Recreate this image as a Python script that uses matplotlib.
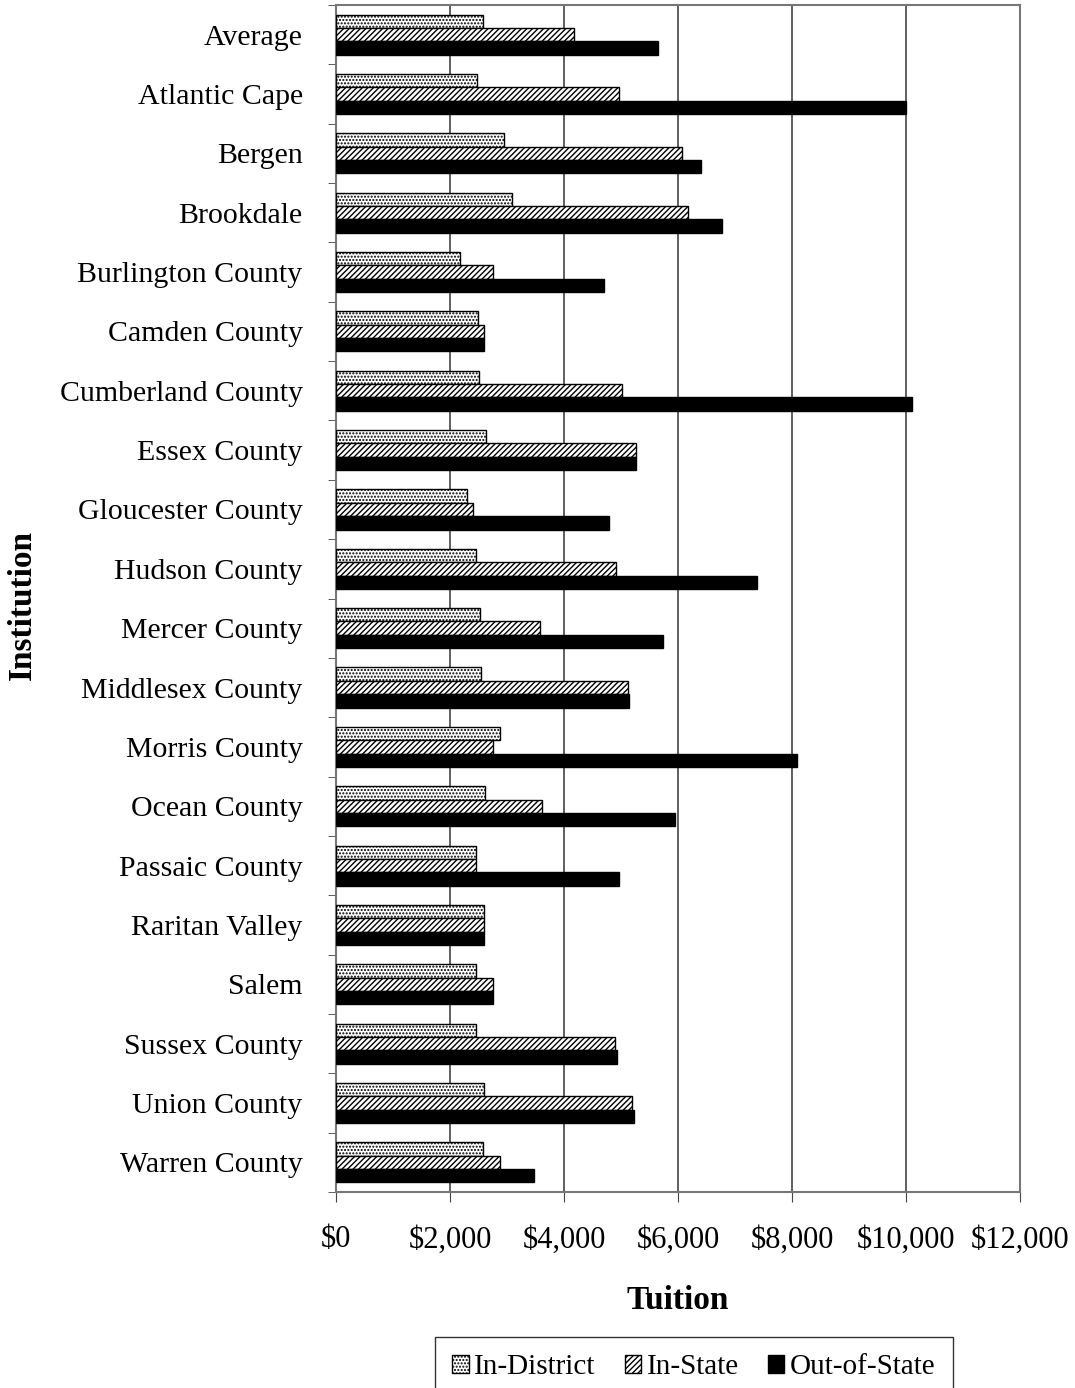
import matplotlib
matplotlib.use("Agg")
import matplotlib.pyplot as plt
import numpy as np
from matplotlib.ticker import FuncFormatter, FixedLocator

institutions = ["Average", "Atlantic Cape", "Bergen", "Brookdale", "Burlington County",
                "Camden County", "Cumberland County", "Essex County", "Gloucester County",
                "Hudson County", "Mercer County", "Middlesex County", "Morris County",
                "Ocean County", "Passaic County", "Raritan Valley", "Salem", "Sussex County",
                "Union County", "Warren County"]
in_district = [2585, 2475, 2940, 3090, 2175, 2490, 2510, 2630, 2300, 2460,
               2530, 2540, 2880, 2610, 2460, 2600, 2460, 2455, 2595, 2575]
in_state = [4180, 4970, 6065, 6175, 2750, 2600, 5020, 5260, 2400, 4910,
            3580, 5120, 2750, 3610, 2460, 2600, 2750, 4890, 5200, 2870]
out_of_state = [5655, 10000, 6400, 6770, 4700, 2600, 10100, 5260, 4790, 7390,
                5740, 5140, 8090, 5950, 4960, 2600, 2750, 4930, 5235, 3480]
series_names = ["In-District", "In-State", "Out-of-State"]
x_ticks = [0, 2000, 4000, 6000, 8000, 10000, 12000]

plt.rcParams['font.family'] = ['Liberation Serif', 'DejaVu Serif']
plt.rcParams['hatch.linewidth'] = 1.0

fig = plt.figure(figsize=(10.75, 13.88), dpi=100)
ax = fig.add_axes([336/1075, 1-1192/1388, (1020-336)/1075, (1192-5)/1388])

n = len(institutions)
y = np.arange(n)
h = 0.225
ax.barh(y - h, in_district, height=h, facecolor='white', edgecolor='black',
        hatch='.....', linewidth=1.0, label=series_names[0], zorder=3)
ax.barh(y, in_state, height=h, facecolor='white', edgecolor='black',
        hatch='//////', linewidth=1.0, label=series_names[1], zorder=3)
ax.barh(y + h, out_of_state, height=h, facecolor='black', edgecolor='black',
        linewidth=1.0, label=series_names[2], zorder=3)

ax.set_ylim(n - 0.5, -0.5)
ax.set_xlim(0, 12000)
ax.set_yticks(y)
ax.set_yticklabels(institutions, fontsize=21.5)
ax.yaxis.set_minor_locator(FixedLocator(np.arange(-0.5, n, 1.0)))
ax.tick_params(axis='y', which='major', length=0, pad=24)
ax.tick_params(axis='y', which='minor', length=6, direction='out', color='#444444')

ax.set_xticks(x_ticks)
ax.xaxis.set_major_formatter(FuncFormatter(lambda v, p: "${:,.0f}".format(v)))
ax.tick_params(axis='x', which='major', length=7, direction='out', pad=17,
               labelsize=22, color='#444444')

ax.grid(axis='x', color='#444444', linewidth=1.2, zorder=0)
for s in ax.spines.values():
    s.set_color('#777777')
    s.set_linewidth(1.5)

ax.set_xlabel("Tuition", fontsize=24, fontweight='bold', labelpad=22)
fig.text(22/1075, 1-605/1388, "Institution", rotation=90, fontsize=24,
         fontweight='bold', ha='center', va='center')

leg = fig.legend(loc='upper center', bbox_to_anchor=(694/1075, 1-1322/1388),
                 ncol=3, fontsize=21, frameon=True, fancybox=False,
                 handlelength=0.55, handleheight=0.55, handletextpad=0.2,
                 columnspacing=1.0, borderpad=0.6, edgecolor='black')
leg.get_frame().set_linewidth(1.0)

fig.savefig("out.png", dpi=100)
